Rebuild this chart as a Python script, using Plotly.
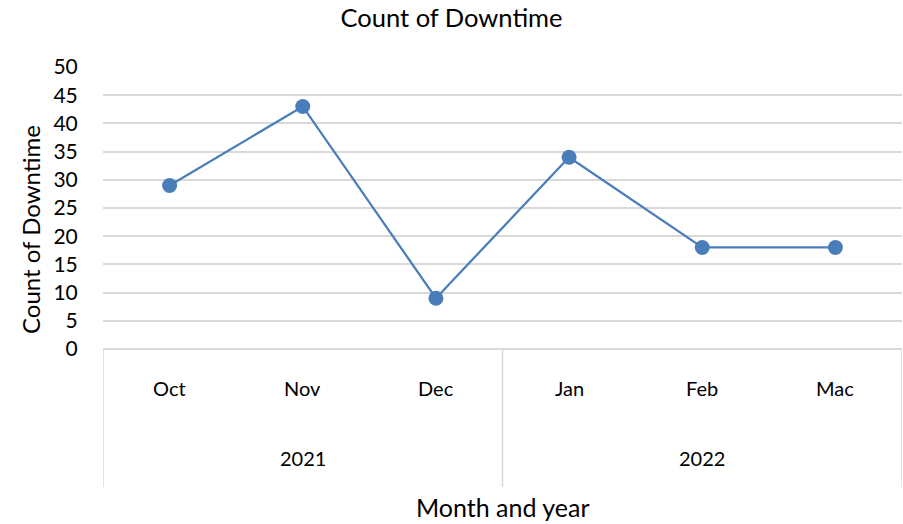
import plotly.graph_objects as go

months = ["Oct", "Nov", "Dec", "Jan", "Feb", "Mac"]
years = ["2021", "2022"]
year_month_counts = [3, 3]
counts = [29, 43, 9, 34, 18, 18]
y_ticks = [0, 5, 10, 15, 20, 25, 30, 35, 40, 45, 50]

FONT = "Lato"
W, H = 903, 524
L, R, T, B = 103, 1, 67, 175
ph = H - T - B

def py(pix):
    return (H - B - pix) / ph

xs = list(range(len(months)))
fig = go.Figure()
fig.add_trace(go.Scatter(
    x=xs, y=counts, mode="lines+markers",
    line=dict(color="#4a7ebb", width=2.25),
    marker=dict(color="#4a7ebb", size=15),
    showlegend=False, hoverinfo="y"))

annotations = []
for i, m in enumerate(months):
    annotations.append(dict(x=i, y=py(388), xref="x", yref="paper", text=m,
                            xanchor="center", yanchor="middle",
                            showarrow=False, font=dict(size=20, color="#000", family=FONT)))
shapes = []
start = 0
bounds = [-0.5]
for yr, n in zip(years, year_month_counts):
    center = start + (n - 1) / 2
    annotations.append(dict(x=center, y=py(458), xref="x", yref="paper", text=yr,
                            xanchor="center", yanchor="middle",
                            showarrow=False, font=dict(size=20, color="#000", family=FONT)))
    start += n
    bounds.append(start - 0.5)
for b in bounds:
    shapes.append(dict(type="line", xref="x", yref="paper", x0=b, x1=b, y0=0, y1=py(487),
                       line=dict(color="#d9d9d9", width=1.5)))

annotations.append(dict(x=0.5, y=py(507), xref="paper", yref="paper", text="Month and year",
                        xanchor="center", yanchor="middle",
                        showarrow=False, font=dict(size=25, color="#000", family=FONT)))
annotations.append(dict(x=(30 - L) / (W - L - R), y=py(230), xref="paper", yref="paper",
                        xanchor="center", yanchor="middle",
                        text="Count of Downtime", textangle=-90, showarrow=False,
                        font=dict(size=24, color="#000", family=FONT)))

fig.update_layout(
    width=W, height=H,
    margin=dict(l=L, r=R, t=T, b=B, pad=0),
    paper_bgcolor="white", plot_bgcolor="white",
    title=dict(text="Count of Downtime", x=0.5, xref="container", xanchor="center",
               y=1 - 18 / H, yanchor="middle",
               font=dict(size=25.5, color="#000", family=FONT)),
    xaxis=dict(range=[-0.5, 5.5], showticklabels=False, showgrid=False, zeroline=False,
               showline=False, ticks="", fixedrange=True),
    yaxis=dict(range=[0, 50], tickvals=y_ticks, showgrid=True, gridcolor="#d9d9d9",
               gridwidth=1.5, zeroline=True, zerolinecolor="#d9d9d9", zerolinewidth=1.5,
               showline=False, ticks="outside", ticklen=20, tickcolor="rgba(0,0,0,0)",
               tickfont=dict(size=21, color="#000", family=FONT), fixedrange=True),
    annotations=annotations, shapes=shapes,
)
fig.write_html("out.html")
